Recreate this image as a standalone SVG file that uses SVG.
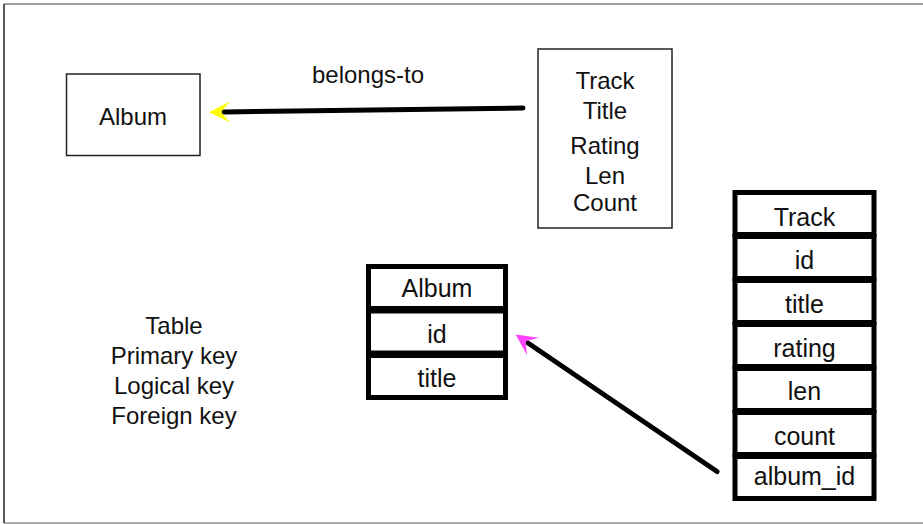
<svg xmlns="http://www.w3.org/2000/svg" width="923" height="524" viewBox="0 0 923 524">
<style>
  text { font-family: "Liberation Sans", Arial, sans-serif; fill: #111; text-anchor: middle; }
  .t24 { font-size: 24px; }
  .t25 { font-size: 25px; }
  .box { fill: #fff; stroke: #222; stroke-width: 1.5; }
  .row { fill: #fff; stroke: #000; stroke-width: 5; }
  .conn { stroke: #000; stroke-width: 5; stroke-linecap: round; fill: none; }
</style>
<defs>
  <marker id="headYellow" markerUnits="userSpaceOnUse" orient="auto" overflow="visible" refX="0" refY="0" markerWidth="24" markerHeight="24">
    <path d="M15,0 L-6,-10.5 L3,0 L-6,10.5 Z" fill="#FFFF00"/>
  </marker>
  <marker id="headMagenta" markerUnits="userSpaceOnUse" orient="auto" overflow="visible" refX="0" refY="0" markerWidth="24" markerHeight="24">
    <path d="M15,0 L-6,-10.5 L3,0 L-6,10.5 Z" fill="#FF44FF"/>
  </marker>
</defs>
<rect x="0" y="0" width="923" height="524" fill="#fff"/>
<g id="frame">
  <line x1="4" y1="4" x2="923" y2="4" stroke="#808080" stroke-width="1.5"/>
  <line x1="4" y1="523" x2="923" y2="523" stroke="#909090" stroke-width="1.5"/>
  <line x1="4" y1="4" x2="4" y2="523" stroke="#222" stroke-width="1.5"/>
</g>

<g id="album-entity">
  <rect class="box" x="66.5" y="74" width="133.5" height="81.5"/>
  <text class="t24" x="133" y="125">Album</text>
</g>

<g id="track-entity">
  <rect class="box" x="538" y="49" width="134" height="179"/>
  <text class="t24" x="605" y="88.5">Track</text>
  <text class="t24" x="605" y="118.5">Title</text>
  <text class="t24" x="605" y="153.5">Rating</text>
  <text class="t24" x="605" y="183.5">Len</text>
  <text class="t24" x="605" y="210.5">Count</text>
</g>

<g id="belongs-to-label">
  <text class="t24" x="368" y="83">belongs-to</text>
</g>

<g id="legend">
  <text class="t24" x="174" y="334">Table</text>
  <text class="t24" x="174" y="364">Primary key</text>
  <text class="t24" x="174" y="394">Logical key</text>
  <text class="t24" x="174" y="424">Foreign key</text>
</g>

<g id="album-table">
  <rect class="row" x="368.5" y="266.5" width="137" height="42"/>
  <rect class="row" x="368.5" y="311" width="137" height="42"/>
  <rect class="row" x="368.5" y="355.5" width="137" height="42"/>
  <text class="t25" x="437" y="296.5">Album</text>
  <text class="t25" x="437" y="343">id</text>
  <text class="t25" x="437" y="386.5">title</text>
</g>

<g id="track-table">
  <rect class="row" x="735" y="192.5" width="139" height="42"/>
  <rect class="row" x="735" y="236.5" width="139" height="42"/>
  <rect class="row" x="735" y="280.5" width="139" height="42"/>
  <rect class="row" x="735" y="324.5" width="139" height="42"/>
  <rect class="row" x="735" y="368.5" width="139" height="42"/>
  <rect class="row" x="735" y="412.5" width="139" height="42"/>
  <rect class="row" x="735" y="456.5" width="139" height="42"/>
  <text class="t25" x="804.5" y="226">Track</text>
  <text class="t25" x="804.5" y="269">id</text>
  <text class="t25" x="804.5" y="313">title</text>
  <text class="t25" x="804.5" y="357">rating</text>
  <text class="t25" x="804.5" y="400">len</text>
  <text class="t25" x="804.5" y="445">count</text>
  <text class="t25" x="804.5" y="485">album_id</text>
</g>

<g id="connectors">
  <line class="conn" x1="523" y1="108" x2="224" y2="112" marker-end="url(#headYellow)"/>
  <line class="conn" x1="717" y1="471.5" x2="528" y2="343" marker-end="url(#headMagenta)"/>
</g>
</svg>
